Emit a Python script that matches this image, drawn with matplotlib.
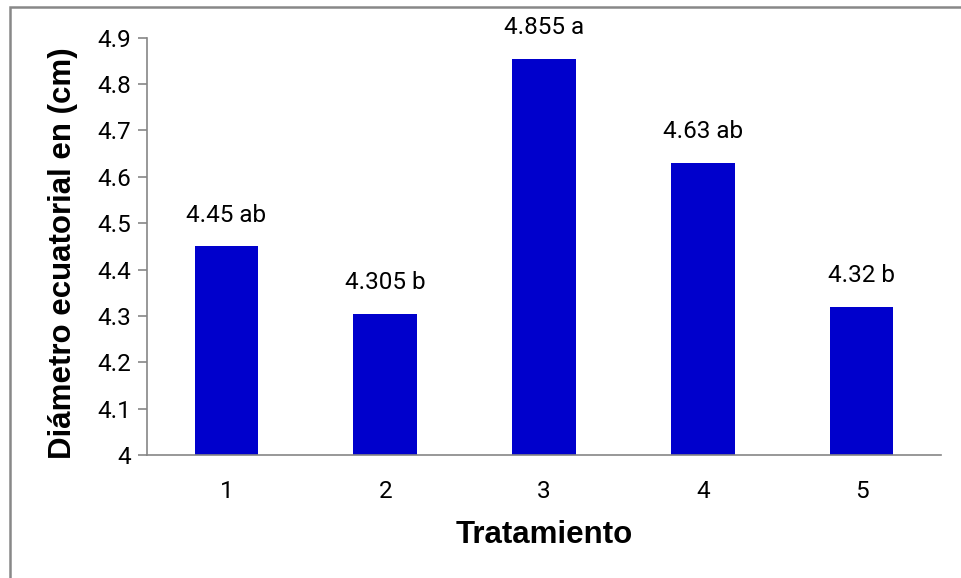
import matplotlib
matplotlib.use("Agg")
import matplotlib.pyplot as plt
from matplotlib.patches import Rectangle

tratamientos = ["1", "2", "3", "4", "5"]
diametro = [4.45, 4.305, 4.855, 4.63, 4.32]
letras = ["ab", "b", "a", "ab", "b"]
y_ticks = [4.0, 4.1, 4.2, 4.3, 4.4, 4.5, 4.6, 4.7, 4.8, 4.9]
y_tick_labels = ["4", "4.1", "4.2", "4.3", "4.4", "4.5", "4.6", "4.7", "4.8", "4.9"]

plt.rcParams["font.family"] = ["Roboto", "DejaVu Sans"]

fig = plt.figure(figsize=(9.61, 5.78), dpi=100)
ax = fig.add_axes([147 / 961, 1 - 455 / 578, (941 - 147) / 961, (455 - 37.7) / 578])

x = list(range(len(tratamientos)))
ax.bar(x, diametro, width=0.4, color="#0000CC")
ax.set_ylim(4.0, 4.9)
ax.set_xlim(-0.5, len(tratamientos) - 0.5)

ax.set_yticks(y_ticks)
ax.set_yticklabels(y_tick_labels)
ax.set_xticks(x)
ax.set_xticklabels(tratamientos)

for xi, v, l in zip(x, diametro, letras):
    ax.annotate(f"{v:g} {l}", (xi, v), xytext=(0, 14), textcoords="offset points",
                ha="center", va="bottom", fontsize=17.5, color="black")

for s in ["top", "right"]:
    ax.spines[s].set_visible(False)
for s in ["left", "bottom"]:
    ax.spines[s].set_color("#868686")
    ax.spines[s].set_linewidth(1.2)

ax.tick_params(axis="y", direction="out", length=6.5, width=1.2, color="#868686",
               labelsize=17.5, pad=5)
ax.tick_params(axis="x", length=0, labelsize=17.5, pad=18)

ax.set_xlabel("Tratamiento", fontsize=22.5, fontweight="bold",
              family=["Liberation Sans", "DejaVu Sans"], labelpad=12)
ax.set_ylabel("Diámetro ecuatorial en (cm)", fontsize=22.5, fontweight="bold",
              family=["Liberation Sans", "DejaVu Sans"])
ax.yaxis.set_label_coords(-0.087, 0.484)

# chart-area frame
fig.patches.append(Rectangle((10 / 961, -0.05), 1.1, 1 - 7 / 578 + 0.05,
                             transform=fig.transFigure, fill=False,
                             edgecolor="#888888", linewidth=1.8))

fig.savefig("out.png", dpi=100)
